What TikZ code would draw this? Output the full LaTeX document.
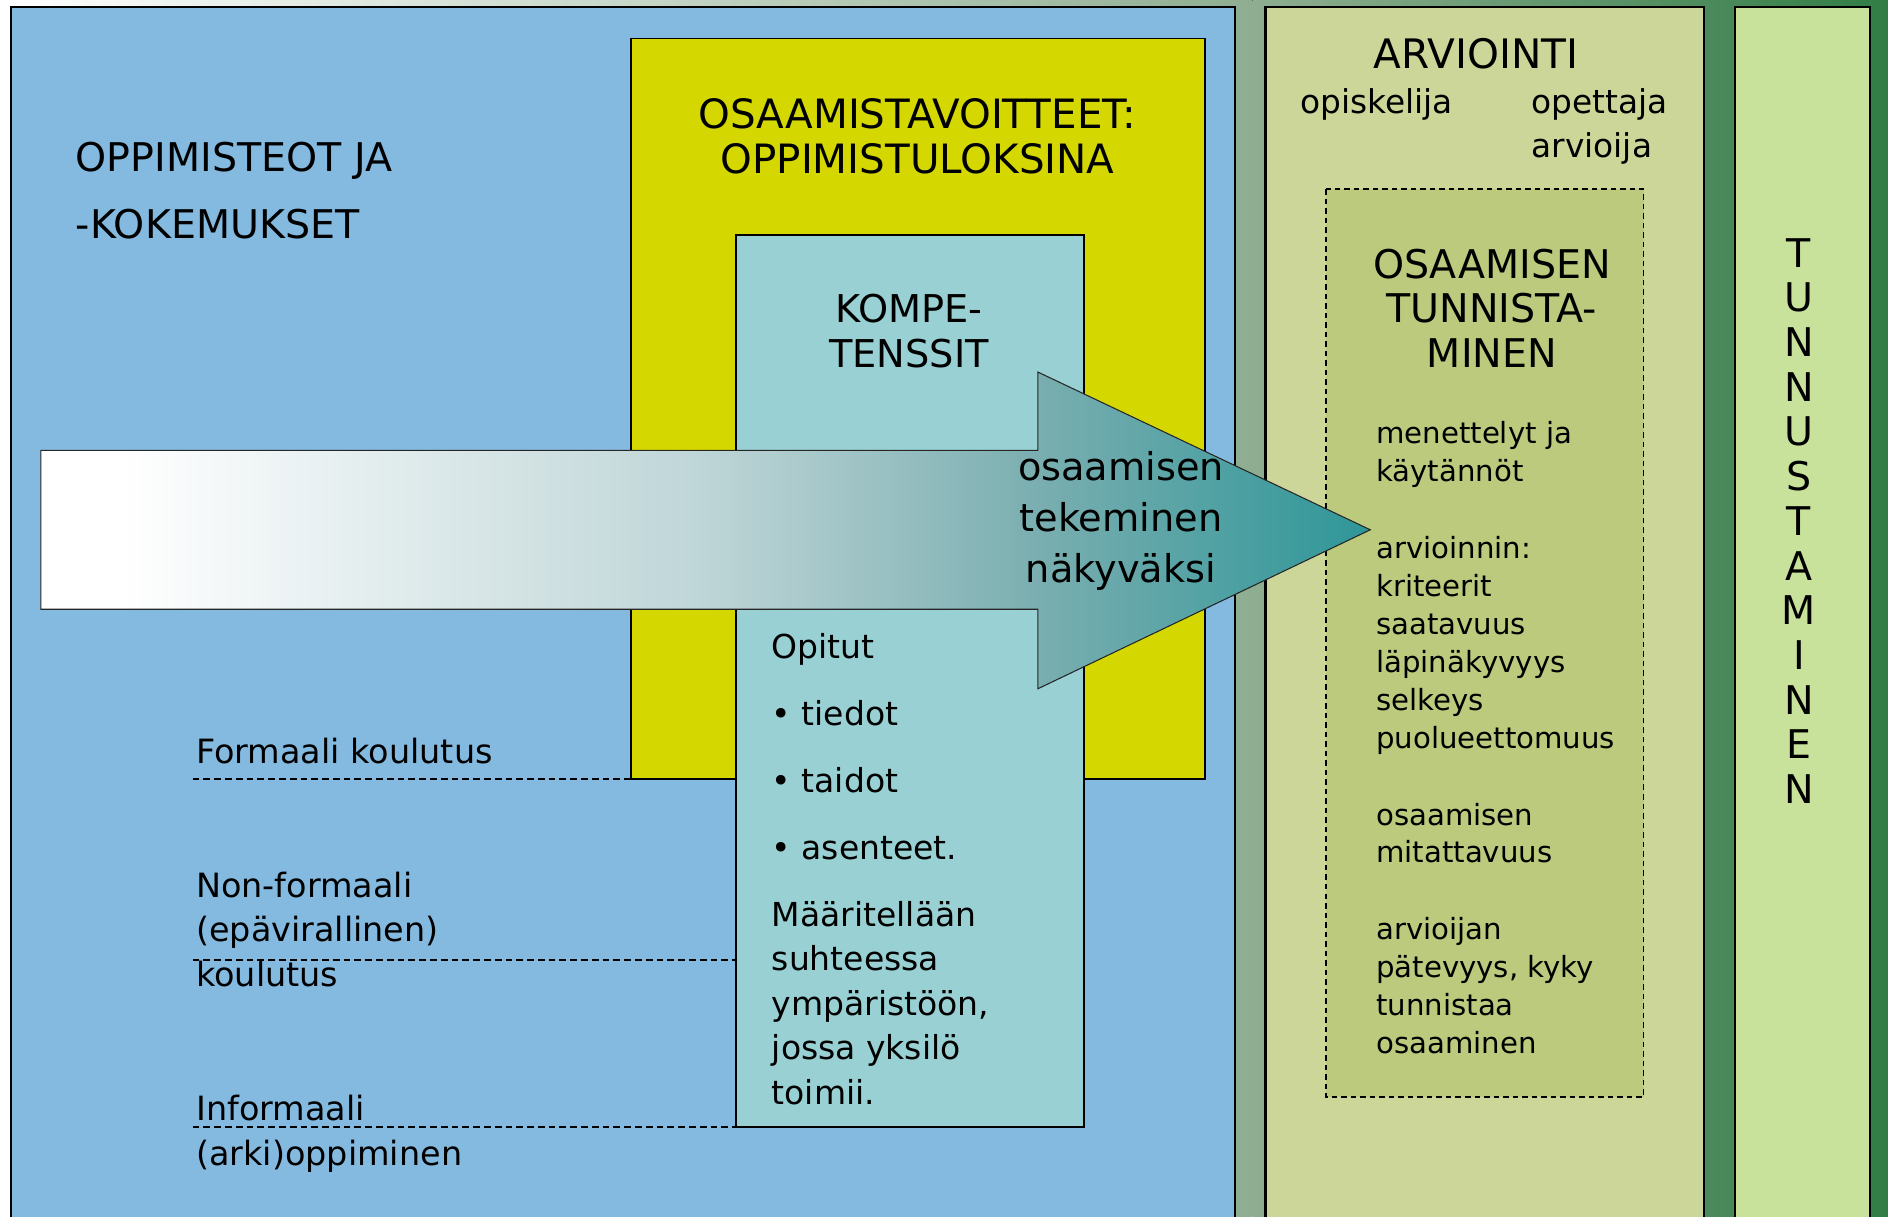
\documentclass[tikz,border=0pt]{standalone}
\usepackage{fontspec}
\setmainfont{DejaVu Sans}
\newcommand\myfs[2]{\fontsize{#1}{#2}\selectfont}
\definecolor{bgmid}{RGB}{143,174,145}
\definecolor{bgdark}{RGB}{49,125,70}
\definecolor{blueP}{RGB}{132,186,224}
\definecolor{yellowP}{RGB}{212,216,0}
\definecolor{kompP}{RGB}{153,208,211}
\definecolor{arvioP}{RGB}{205,214,153}
\definecolor{dashP}{RGB}{188,202,125}
\definecolor{tunP}{RGB}{200,226,155}
\definecolor{tealA}{RGB}{46,150,152}
\definecolor{arrM}{RGB}{190,213,215}
\definecolor{arrN}{RGB}{122,174,176}
\pgfdeclarehorizontalshading{arrowsh}{100bp}{color(0bp)=(white); color(28bp)=(white); color(50bp)=(arrM); color(62.5bp)=(arrN); color(75bp)=(tealA); color(100bp)=(tealA)}
\begin{document}
\begin{tikzpicture}[x=0.02cm,y=-0.02cm,
  panel/.style={draw=black,line width=1pt},
  inbox/.style={draw=black,line width=0.8pt},
  dline/.style={draw=black,line width=0.8pt,dash pattern=on 3.2pt off 1.9pt},
  txt/.style={inner sep=0pt,outer sep=0pt,text=black},
  head/.style={txt,font=\myfs{18.7}{21}},
  lbl/.style={txt,font=\myfs{15.8}{21},align=left,anchor=base west},
  lst/.style={txt,font=\myfs{13.8}{17.9},align=left,anchor=base west}]
\clip (0,0) rectangle (1568,1010);
% background gradient
\fill[left color=white,right color=bgmid] (0,0) rectangle (1040,1010);
\fill[left color=bgmid,right color=bgdark] (1040,0) rectangle (1568,1010);
% panels
\draw[panel,fill=blueP] (9,6) rectangle (1026,1030);
\draw[inbox,fill=yellowP] (524,32) rectangle (1001,647);
\draw[inbox,fill=kompP] (611,195) rectangle (900,936);
% dashed level lines
\coordinate (fa) at (160,647); \coordinate (fb) at (548,647);
\coordinate (na) at (160,797); \coordinate (nb) at (611,797);
\coordinate (ia) at (160,936); \coordinate (ib) at (611,936);
\draw[dline] (fa) -- (fb);
\draw[dline] (na) -- (nb);
\draw[dline] (ia) -- (ib);
\draw[panel,fill=arvioP] (1051,6) rectangle (1415,1030);
\draw[fill=dashP,draw=black,line width=0.8pt,dash pattern=on 2.6pt off 1.9pt] (1101,157) rectangle (1365,911);
\draw[panel,fill=tunP] (1441,6) rectangle (1553,1030);
% big arrow
\shadedraw[shading=arrowsh,draw=black!85,line width=0.5pt]
  (34,374) -- (862,374) -- (862,309) -- (1138,440) -- (862,572) -- (862,506) -- (34,506) -- cycle;
% texts (multi-line nodes: base = last line)
\node[head,align=left,anchor=base west,font=\myfs{18.7}{31.7}] (oppim) at (63,198) {OPPIMISTEOT JA\\-KOKEMUKSET};
\node[head,align=center,anchor=base,font=\myfs{19.1}{21}] (osav) at (762,144) {OSAAMISTAVOITTEET:\\OPPIMISTULOKSINA};
\node[head,align=center,anchor=base,font=\myfs{18.1}{21}] (komp) at (755,305) {KOMPE-\\TENSSIT};
\node[txt,align=center,anchor=base,font=\myfs{18.1}{24.1}] (nak) at (931,484) {osaamisen\\tekeminen\\näkyväksi};
\node[txt,align=left,anchor=base west,font=\myfs{15.6}{31.7}] (opitut) at (641,714) {Opitut\\• tiedot\\• taidot\\• asenteet.};
\node[txt,align=left,anchor=base west,font=\myfs{15.6}{21}] (maar) at (641,917) {Määritellään\\suhteessa\\ympäristöön,\\jossa yksilö\\toimii.};
\node[lbl] (form) at (163,634) {Formaali koulutus};
\node[lbl] (nonf) at (163,819) {Non-formaali\\(epävirallinen)\\koulutus};
\node[lbl,font=\myfs{15.8}{21.5}] (inf) at (163,968) {Informaali\\(arki)oppiminen};
\node[head,anchor=base,font=\myfs{19.2}{21}] (arv) at (1226,57) {ARVIOINTI};
\node[txt,anchor=base west,font=\myfs{15.5}{21}] (opis) at (1080,94) {opiskelija};
\node[txt,anchor=base west,align=left,font=\myfs{15.5}{21}] (opet) at (1272,131) {opettaja\\arvioija};
\node[head,align=center,anchor=base] (osatun) at (1239,305) {OSAAMISEN\\TUNNISTA-\\MINEN};
\node[lst] (men) at (1143,875) {menettelyt ja\\käytännöt\\[18.5pt]arvioinnin:\\kriteerit\\saatavuus\\läpinäkyvyys\\selkeys\\puolueettomuus\\[18.5pt]osaamisen\\mitattavuus\\[18.5pt]arvioijan\\pätevyys, kyky\\tunnistaa\\osaaminen};
\foreach \ch [count=\i from 0] in {T,U,N,N,U,S,T,A,M,I,N,E,N}
  \node[head,anchor=base] (tu\i) at (1494,222+37.1*\i) {\ch};
\end{tikzpicture}
\end{document}
